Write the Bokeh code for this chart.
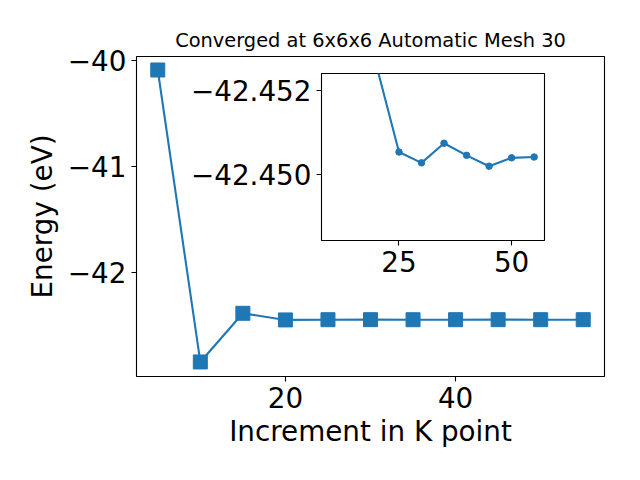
from bokeh.plotting import figure
from bokeh.layouts import column
from bokeh.models import Range1d, FixedTicker, CustomJSTickFormatter
from bokeh.embed import file_html
from bokeh.resources import INLINE

# Data
k_points = [5, 10, 15, 20, 25, 30, 35, 40, 45, 50, 55]
energies = [-40.09, -42.85, -42.39, -42.4526, -42.45053, -42.45027, -42.45074,
            -42.45045, -42.45019, -42.45039, -42.45041]
inset_start = 3  # inset shows points from k = 20 onward

main_xticks = [20, 40]
main_yticks = [-42, -41, -40]
inset_xticks = [25, 50]
inset_yticks = [-42.452, -42.450]

title_text = "Converged at 6x6x6 Automatic Mesh 30"
xlabel = "Increment in K point"
ylabel = "Energy (eV)"

BLUE = "#1f77b4"
FONT = "DejaVu Sans"
TICK_FS = "27.8px"


def fmt(decimals):
    return CustomJSTickFormatter(args=dict(d=decimals),
                                 code="return tick.toFixed(d).replace('-', '\u2212');")


def style_axes(p):
    for ax in (p.xaxis[0], p.yaxis[0]):
        ax.major_tick_out = 5
        ax.major_tick_in = 0
        ax.minor_tick_out = 0
        ax.minor_tick_in = 0
        ax.major_tick_line_width = 1.1
        ax.axis_line_color = None
        ax.major_label_text_font = FONT
        ax.major_label_text_font_size = TICK_FS
        ax.major_label_text_color = "black"
        ax.major_label_standoff = 5
        ax.axis_label_text_font = FONT
        ax.axis_label_text_font_size = TICK_FS
        ax.axis_label_text_font_style = "normal"
        ax.axis_label_text_color = "black"
    p.xgrid.grid_line_color = None
    p.ygrid.grid_line_color = None
    p.outline_line_color = "black"
    p.outline_line_width = 1.1


# Shared side borders (column layouts align frame edges)
BL, BR = 136, 36

# Main figure
main = figure(width=640, height=480, output_backend="svg", toolbar_location=None,
              x_range=Range1d(2.5, 57.5), y_range=Range1d(-42.9875, -39.9625),
              min_border_left=BL, min_border_right=BR, min_border_top=56,
              min_border_bottom=104, title=title_text)
main.title.text_font = FONT
main.title.text_font_size = "19.4px"
main.title.text_font_style = "normal"
main.title.align = "center"
main.title.text_color = "black"
style_axes(main)
main.xaxis.ticker = FixedTicker(ticks=main_xticks)
main.yaxis.ticker = FixedTicker(ticks=main_yticks)
main.xaxis.formatter = fmt(0)
main.yaxis.formatter = fmt(0)
main.xaxis.axis_label = xlabel
main.yaxis.axis_label = ylabel
main.xaxis.axis_label_standoff = 4
main.yaxis.axis_label_standoff = 6

main.line(k_points, energies, line_color=BLUE, line_width=2.1)
main.scatter(k_points, energies, marker="square", size=14, fill_color=BLUE,
             line_color=BLUE, line_width=1)

# Inset figure
IT, IB = 10, 50
IW, IH = 223, 167
inset = figure(width=BL + IW + BR, height=IT + IH + IB, output_backend="svg",
               toolbar_location=None,
               x_range=Range1d(7.8, 57.3), y_range=Range1d(-42.44841, -42.45241),
               min_border_left=BL, min_border_right=BR, min_border_top=IT,
               min_border_bottom=IB)
style_axes(inset)
inset.border_fill_alpha = 0
inset.background_fill_color = "white"
inset.xaxis.ticker = FixedTicker(ticks=inset_xticks)
inset.yaxis.ticker = FixedTicker(ticks=inset_yticks)
inset.xaxis.formatter = fmt(0)
inset.yaxis.formatter = fmt(3)

ix = k_points[inset_start:]
iy = energies[inset_start:]
inset.line(ix, iy, line_color=BLUE, line_width=2.1)
inset.scatter(ix, iy, marker="circle", size=6.5, fill_color=BLUE, line_color=BLUE,
              line_width=1)

inset.styles = {"position": "absolute", "left": f"{321 - BL}px",
                "top": f"{73 - IT}px"}

layout = column(main, inset)
layout.styles = {"position": "relative"}

open("out.html", "w").write(file_html(layout, INLINE))
